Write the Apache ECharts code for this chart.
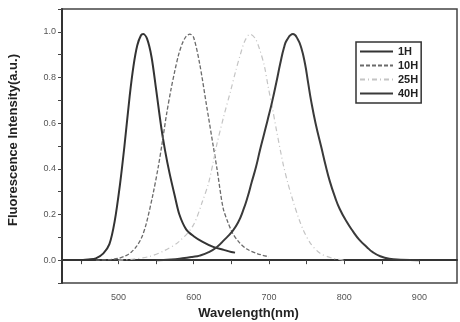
<!DOCTYPE html>
<html lang="en">
<head>
	<meta charset="UTF-8">
	<title>Fluorescence spectra</title>
	<style type="text/css">
		html, body { margin: 0; padding: 0; background: #fff; }
		#box { width: 460px; height: 322px; }
	</style>
</head>
<body>
	<div id="box"></div>
	<script type="text/javascript" src="https://cdn.jsdelivr.net/npm/echarts@6/dist/echarts.min.js"></script>
	<script type="text/javascript">
		// wavelength (nm) and intensity for each sample
		var wl1H = [450, 460, 470, 480, 488, 495, 502, 508, 515, 520, 525, 530, 533, 538, 544, 550, 557, 562, 568, 575, 581, 590, 600, 612, 626, 640, 650, 655];
		var val1H = [0.0, 0.003, 0.008, 0.03, 0.07, 0.17, 0.33, 0.50, 0.72, 0.85, 0.94, 0.985, 0.99, 0.97, 0.89, 0.75, 0.58, 0.48, 0.38, 0.28, 0.20, 0.135, 0.105, 0.08, 0.058, 0.045, 0.036, 0.033];

		var wl10H = [470, 490, 500, 510, 517, 524, 531, 537, 546, 553, 558, 564, 570, 575, 580, 585, 590, 595, 600, 608, 617, 626, 631, 639, 645, 652, 660, 670, 685, 700];
		var val10H = [0.0, 0.003, 0.008, 0.02, 0.035, 0.06, 0.10, 0.16, 0.29, 0.41, 0.51, 0.64, 0.75, 0.83, 0.90, 0.95, 0.98, 0.99, 0.975, 0.86, 0.68, 0.50, 0.40, 0.23, 0.17, 0.117, 0.08, 0.05, 0.028, 0.015];

		var wl25H = [500, 520, 540, 560, 580, 599, 612, 620, 626, 631, 640, 649, 656, 662, 668, 675, 682, 688, 694, 699, 705, 710, 719, 725, 732, 740, 746, 755, 768, 785, 800];
		var val25H = [0.0, 0.005, 0.015, 0.04, 0.08, 0.15, 0.26, 0.34, 0.43, 0.51, 0.63, 0.74, 0.83, 0.90, 0.96, 0.99, 0.97, 0.92, 0.85, 0.76, 0.66, 0.57, 0.42, 0.34, 0.26, 0.18, 0.13, 0.075, 0.03, 0.008, 0.0];

		var wl40H = [550, 570, 585, 598, 608, 620, 631, 641, 651, 659, 666, 672, 677, 683, 688, 693, 698, 704, 710, 715, 720, 724, 732, 738, 743, 748, 752, 756, 762, 770, 775, 781, 788, 794, 803, 812, 820, 830, 838, 848, 860, 875, 900];
		var val40H = [0.0, 0.003, 0.008, 0.014, 0.02, 0.035, 0.058, 0.09, 0.125, 0.165, 0.22, 0.28, 0.34, 0.41, 0.48, 0.545, 0.61, 0.69, 0.78, 0.86, 0.93, 0.965, 0.99, 0.97, 0.93, 0.86, 0.78, 0.70, 0.60, 0.49, 0.42, 0.345, 0.275, 0.225, 0.17, 0.125, 0.09, 0.058, 0.035, 0.017, 0.006, 0.002, 0.0];

		var names = ['1H', '10H', '25H', '40H'];
		// tick marks every 50 nm, labels every 100 nm
		var xTicks = [450, 500, 550, 600, 650, 700, 750, 800, 850, 900];
		var xLabels = [500, 600, 700, 800, 900];

		function pairs(xs, ys){
			var out = [];
			xs.forEach(function (x, i){
				out.push([x, ys[i]]);
			});
			return out;
		}

		var myChart = echarts.init(document.getElementById('box'));
		var font = 'Liberation Sans, Arial, sans-serif';

		var option = {
			animation: false,
			grid: {
				left: 62, right: 3, top: 9, bottom: 39,
				outerBoundsMode: 'none',
				show: true, borderColor: '#444', borderWidth: 1.5
			},
			legend: {
				orient: 'vertical',
				left: 356, top: 42,
				padding: [4, 3, 4, 3],
				itemGap: 3,
				itemWidth: 33,
				itemHeight: 12,
				borderColor: '#333',
				borderWidth: 1.5,
				backgroundColor: '#fff',
				itemStyle: { opacity: 0 },
				textStyle: { fontFamily: font, fontSize: 11, fontWeight: 'bold', color: '#222' },
				data: names
			},
			xAxis: {
				type: 'value',
				min: 425, max: 950,
				name: 'Wavelength(nm)',
				nameLocation: 'middle',
				nameGap: 23,
				nameTextStyle: { fontFamily: font, fontSize: 13, fontWeight: 'bold', color: '#222', padding: [0, 22, 0, 0] },
				axisLine: { lineStyle: { color: '#333', width: 2 } },
				axisTick: { length: 4, customValues: xTicks, lineStyle: { color: '#444', width: 1 } },
				axisLabel: {
					fontFamily: font, fontSize: 9, color: '#555', margin: 10,
					customValues: xLabels
				},
				splitLine: { show: false }
			},
			yAxis: {
				type: 'value',
				min: -0.1, max: 1.1, interval: 0.1,
				name: 'Fluorescence Intensity(a.u.)',
				nameLocation: 'middle',
				nameGap: 42,
				nameTextStyle: { fontFamily: font, fontSize: 13, fontWeight: 'bold', color: '#222', padding: [0, 0, 0, 12] },
				axisLine: { lineStyle: { color: '#333', width: 2 } },
				axisTick: { length: 4, lineStyle: { color: '#444', width: 1 } },
				axisLabel: {
					fontFamily: font, fontSize: 9, color: '#555', margin: 6,
					formatter: function (v){
						var k = Math.round(v * 10);
						return (k >= 0 && k <= 10 && k % 2 === 0) ? (k / 10).toFixed(1) : '';
					}
				},
				splitLine: { show: false }
			},
			series: [
				{ name: '1H', type: 'line', smooth: 0.3, symbol: 'none', data: pairs(wl1H, val1H),
				  lineStyle: { color: '#333', width: 2 }, itemStyle: { color: '#333' } },
				{ name: '10H', type: 'line', smooth: 0.3, symbol: 'none', data: pairs(wl10H, val10H),
				  lineStyle: { color: '#6a6a6a', width: 1.3, type: [4, 2] }, itemStyle: { color: '#6a6a6a' } },
				{ name: '25H', type: 'line', smooth: 0.3, symbol: 'none', data: pairs(wl25H, val25H),
				  lineStyle: { color: '#c4c4c4', width: 1.2, type: [5, 3, 1, 3] }, itemStyle: { color: '#c4c4c4' } },
				{ name: '40H', type: 'line', smooth: 0.5, symbol: 'none', data: pairs(wl40H, val40H),
				  lineStyle: { color: '#3a3a3a', width: 2 }, itemStyle: { color: '#3a3a3a' } }
			]
		};

		myChart.setOption(option);
	</script>
</body>
</html>
